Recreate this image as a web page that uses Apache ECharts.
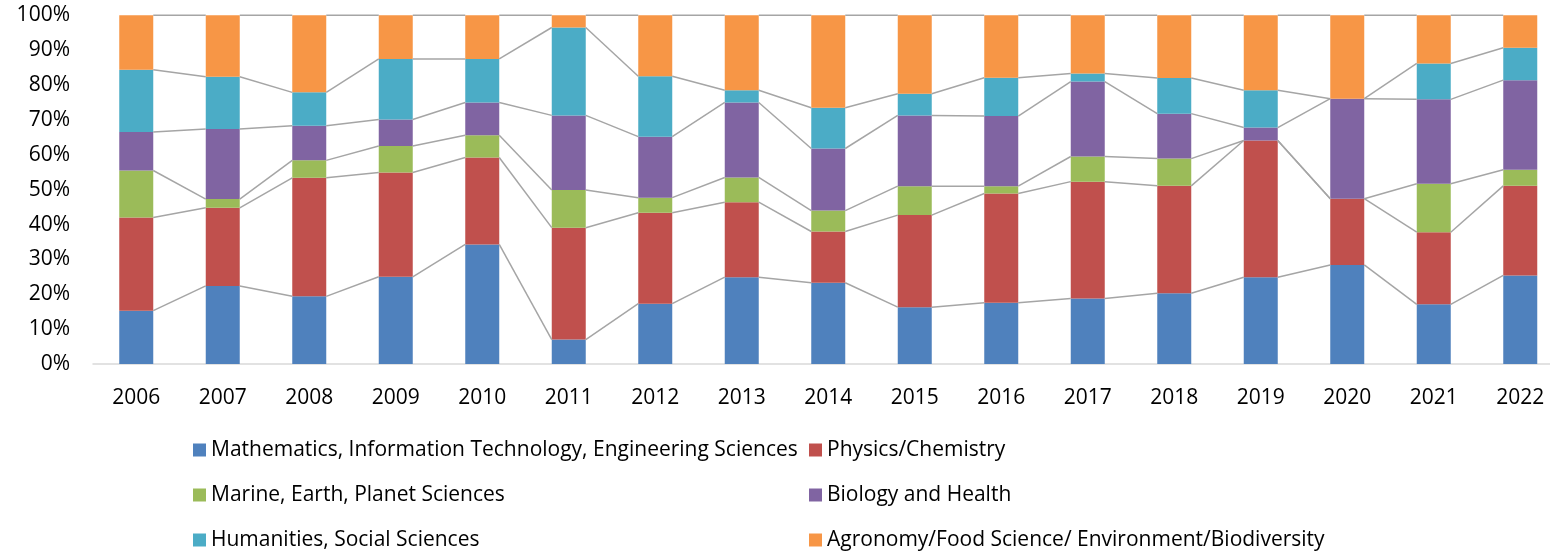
<!DOCTYPE html>
<html>
<head>
<meta charset="utf-8">
<script src="https://cdn.jsdelivr.net/npm/echarts@6/dist/echarts.min.js"></script>
<style>
html, body { margin: 0; padding: 0; background: #fff; }
#chart { width: 1550px; height: 554px; }
</style>
</head>
<body>
<div id="chart"></div>
<script>
// shares per year, in percent
const years = ['2006','2007','2008','2009','2010','2011','2012','2013','2014','2015','2016','2017','2018','2019','2020','2021','2022'];
const mathIT   = [15.3,22.4,19.4,25.0,34.3, 7.0,17.3,24.9,23.3,16.3,17.6,18.8,20.3,24.9,28.4,17.1,25.4];
const physChem = [26.7,22.4,34.0,29.9,24.9,32.1,26.1,21.5,14.7,26.4,31.3,33.5,30.8,39.2,19.0,20.7,25.7];
const marine   = [13.5, 2.5, 5.0, 7.6, 6.4,10.8, 4.3, 7.1, 6.0, 8.3, 2.1, 7.2, 7.8, 0.0, 0.0,13.9, 4.6];
const biology  = [11.0,20.1, 9.9, 7.6, 9.4,21.4,17.5,21.5,17.8,20.3,20.1,21.5,12.9, 3.7,28.7,24.2,25.7];
const humanities=[17.9,15.0, 9.6,17.4,12.5,25.2,17.3, 3.5,11.7, 6.2,11.0, 2.3,10.2,10.7, 0.0,10.3, 9.3];
const agronomy = [15.6,17.6,22.1,12.5,12.5, 3.5,17.5,21.5,26.5,22.5,17.9,16.7,18.0,21.5,23.9,13.8, 9.3];

const names = [
  'Mathematics, Information Technology, Engineering Sciences',
  'Physics/Chemistry',
  'Marine, Earth, Planet Sciences',
  'Biology and Health',
  'Humanities, Social Sciences',
  'Agronomy/Food Science/ Environment/Biodiversity'
];
const colors = ['#4F81BD','#C0504D','#9BBB59','#8064A2','#4BACC6','#F79646'];
const values = [mathIT, physChem, marine, biology, humanities, agronomy];

const BAR_W = 34;
const FONT = '"Open Sans", "Noto Sans", sans-serif';

// cumulative top of each stack level, per year
function cumAt(level, i) {
  let s = 0;
  for (let k = 0; k <= level; k++) s += values[k][i];
  return s;
}

const barSeries = names.map((n, k) => ({
  name: n,
  type: 'bar',
  stack: 'all',
  barWidth: BAR_W,
  data: values[k],
  itemStyle: { color: colors[k] },
  emphasis: { disabled: true }
}));

// Excel-like series lines between neighbouring bars
const seriesLines = {
  type: 'custom',
  coordinateSystem: 'cartesian2d',
  silent: true,
  clip: false,
  z: 5,
  encode: { x: 0, y: 1 },
  data: years.slice(0, -1).map((y, i) => [i, 0]),
  renderItem: function (params, api) {
    const i = api.value(0);
    const half = BAR_W / 2;
    const children = [];
    for (let lv = 0; lv < values.length; lv++) {
      const a = api.coord([i, cumAt(lv, i)]);
      const b = api.coord([i + 1, cumAt(lv, i + 1)]);
      children.push({
        type: 'line',
        shape: { x1: a[0] + half, y1: a[1], x2: b[0] - half, y2: b[1] },
        style: { stroke: '#A5A5A5', lineWidth: 1.5 }
      });
    }
    return { type: 'group', children: children };
  }
};

// one legend box per entry: two columns, three rows
const legendCols = [193, 809];
const legendRows = [450, 495, 540];
const legends = names.map((n, k) => ({
  data: [n],
  left: legendCols[k % 2],
  top: legendRows[Math.floor(k / 2)] - 12,
  padding: 0,
  icon: 'rect',
  itemWidth: 13,
  itemHeight: 13,
  selectedMode: false,
  itemStyle: { borderWidth: 0 },
  textStyle: { fontFamily: FONT, fontSize: 21, color: '#000', lineHeight: 24 }
}));

const chart = echarts.init(document.getElementById('chart'), null, { renderer: 'canvas' });
chart.setOption({
  animation: false,
  color: colors,
  grid: { left: 93, top: 15.3, width: 1470.5, height: 348.7, containLabel: false, outerBoundsMode: 'none' },
  legend: legends,
  xAxis: {
    type: 'category',
    data: years,
    axisLine: { show: true, lineStyle: { color: '#D9D9D9', width: 1.5 } },
    axisTick: { show: false },
    axisLabel: { fontFamily: FONT, fontSize: 21, color: '#000', margin: 24 }
  },
  yAxis: {
    type: 'value',
    min: 0,
    max: 100,
    interval: 10,
    axisLine: { show: false },
    axisTick: { show: false },
    splitLine: { show: false },
    axisLabel: { fontFamily: FONT, fontSize: 21, color: '#000', margin: 23, formatter: '{value}%' }
  },
  series: barSeries.concat([seriesLines])
});
</script>
</body>
</html>
